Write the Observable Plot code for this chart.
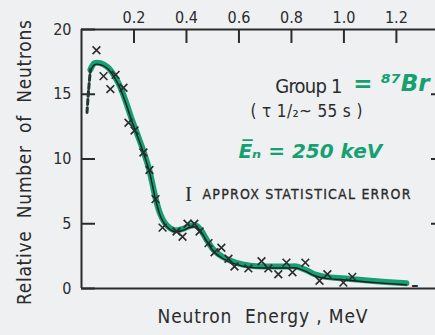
<!DOCTYPE html>
<html><head><meta charset="utf-8">
<script src="https://cdn.jsdelivr.net/npm/d3@7"></script>
<script src="https://cdn.jsdelivr.net/npm/@observablehq/plot@0.6"></script>
<style>
html,body{margin:0;padding:0;background:#eef0f2;}
#chart svg{display:block;background:#eef0f2;}
</style></head><body><div id="chart"></div>
<script>
// measured points (crosses)
const energy = [0.057,0.084,0.130,0.110,0.160,0.179,0.202,0.236,0.259,0.282,0.309,0.362,0.385,0.404,0.430,0.450,0.484,0.507,0.533,0.560,0.583,0.636,0.686,0.712,0.750,0.781,0.804,0.853,0.907,0.937,0.998,1.032];
const counts = [18.4,16.4,16.5,15.4,15.5,12.8,12.2,10.5,9.15,6.9,4.7,4.4,4.0,5.0,5.0,4.4,3.5,2.8,3.15,2.3,1.7,1.55,2.1,1.55,1.1,2.0,1.25,2.0,0.6,1.1,0.45,0.9];
// last (dash) point
const endE = [1.27];
const endN = [0.25];
// fitted spectrum curve
const curveE = [0.034,0.050,0.072,0.099,0.126,0.149,0.171,0.190,0.213,0.236,0.259,0.282,0.301,0.324,0.354,0.385,0.415,0.438,0.457,0.476,0.503,0.537,0.587,0.644,0.720,0.789,0.819,0.853,0.888,0.930,1.006,1.101,1.238];
const curveN = [16.9,17.4,17.4,17.1,16.4,15.5,14.3,13.15,11.9,10.6,9.1,7.0,5.7,4.9,4.5,4.6,4.85,4.85,4.45,3.8,3.0,2.45,2.0,1.75,1.7,1.7,1.7,1.45,1.1,0.9,0.77,0.6,0.4];
// dashed low-energy extrapolation
const leadE = [0.021,0.027,0.034];
const leadN = [13.6,15.3,16.9];
// ticks and labels
const xTicks = [0.2,0.4,0.6,0.8,1.0,1.2];
const yTicks = [0,5,10,15,20];
const yTicksRight = [5,10,15];
const xTitle = ["Neutron  Energy , MeV"];
const yTitle = ["Relative  Number  of  Neutrons"];
const noteGroup = ["Group 1"];
const noteIso = ["= \u2078\u2077Br"];
const noteLife = ["( \u03C4 1/\u2082~ 55 s )"];
const noteMean = ["E\u0305\u2099 = 250 keV"];
const noteErrBar = ["I"];
const noteErr = ["APPROX STATISTICAL ERROR"];

const ink = "#2b2b2b";
const green = "#16a071";
const font = "'DejaVu Sans Condensed', 'Liberation Sans Narrow', sans-serif";
const hand = "'DejaVu Sans', sans-serif";

const chart = Plot.plot({
  width: 435, height: 335,
  marginLeft: 81, marginRight: 0, marginTop: 29, marginBottom: 47,
  style: {fontFamily: font, color: ink, background: "#eef0f2"},
  x: {domain: [0, 1.349]},
  y: {domain: [0, 20]},
  marks: [
    Plot.ruleY([0, 20], {stroke: ink, strokeWidth: 2}),
    Plot.ruleX([0], {stroke: ink, strokeWidth: 2}),
    Plot.axisX(xTicks, {anchor: "top", tickSize: -13, tickPadding: 20, tickFormat: d3.format(".1f"), fontSize: 16, strokeWidth: 2, label: null}),
    Plot.axisY(yTicks, {anchor: "left", tickSize: -14, tickPadding: 24, fontSize: 16, strokeWidth: 2, label: null}),
    Plot.axisY(yTicksRight, {anchor: "right", tickSize: -5, fill: "none", strokeWidth: 2, label: null}),
    Plot.line(curveE, {x: curveE, y: curveN, curve: "catmull-rom", stroke: green, strokeWidth: 6}),
    Plot.line(curveE, {x: curveE, y: curveN, curve: "catmull-rom", stroke: "#1b1b1b", strokeWidth: 1.4, dy: 1.5}),
    Plot.line(leadE, {x: leadE, y: leadN, curve: "catmull-rom", stroke: "#1d3b2e", strokeWidth: 3, strokeDasharray: "5,3"}),
    Plot.dot(energy, {x: energy, y: counts, symbol: "times", r: 3.6, stroke: ink, strokeWidth: 1.6}),
    Plot.text(endE, {x: endE, y: endN, text: () => "\u2013", fontSize: 16, fill: ink, fontWeight: "bold"}),
    Plot.text(noteGroup, {x: 0.994, y: 15.6, textAnchor: "end", fontSize: 20, fill: ink}),
    Plot.text(noteIso, {x: 1.036, y: 15.85, textAnchor: "start", fontSize: 23, fill: green, fontWeight: "bold", fontStyle: "italic", fontFamily: hand}),
    Plot.text(noteLife, {x: 0.857, y: 13.7, fontSize: 17, fill: ink}),
    Plot.text(noteMean, {x: 0.872, y: 10.6, fontSize: 20, fill: green, fontWeight: "bold", fontStyle: "italic", fontFamily: hand}),
    Plot.text(noteErrBar, {x: 0.408, y: 7.3, fontSize: 21, fill: ink, fontFamily: "'Liberation Serif', serif"}),
    Plot.text(noteErr, {x: 0.461, y: 7.25, textAnchor: "start", fontSize: 14, fill: ink, stroke: ink, strokeWidth: 0.3}),
    Plot.text(xTitle, {frameAnchor: "bottom", dx: 4, dy: 34, fontSize: 19, fill: ink}),
    Plot.text(yTitle, {frameAnchor: "left", textAnchor: "start", dx: -57, dy: 146, rotate: -90, fontSize: 19, fill: ink})
  ]
});
document.getElementById("chart").append(chart);

// stretch annotation texts to the widths they span in the original
const spans = {"Neutron  Energy , MeV": 210, "Relative  Number  of  Neutrons": 285, "APPROX STATISTICAL ERROR": 208, "Group 1": 67, "( \u03C4 1/\u2082~ 55 s )": 112};
d3.select(chart).selectAll("text").each(function() {
  const w = spans[this.textContent];
  if (w) { this.setAttribute("textLength", w); this.setAttribute("lengthAdjust", "spacing"); }
});
</script></body></html>
